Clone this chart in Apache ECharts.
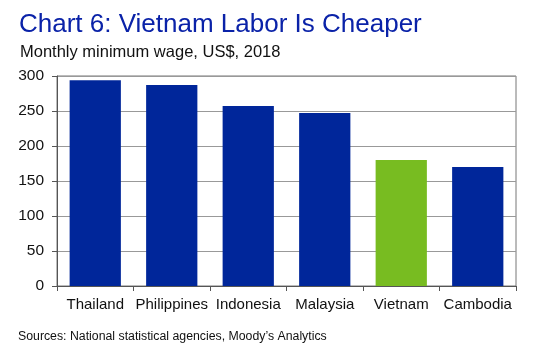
<!DOCTYPE html>
<html>
<head>
<meta charset="utf-8">
<script src="https://cdn.jsdelivr.net/npm/echarts@6/dist/echarts.min.js"></script>
<style>
  html, body { margin: 0; padding: 0; background: #fff; }
  #chart { width: 539px; height: 353px; }
</style>
</head>
<body>
<div id="chart"></div>
<script>
// Monthly minimum wage, US$, 2018
var countries = ['Thailand', 'Philippines', 'Indonesia', 'Malaysia', 'Vietnam', 'Cambodia'];
var wages = [294, 287, 257, 247, 180, 170];
var barColors = ['#00269a', '#00269a', '#00269a', '#00269a', '#78bc21', '#00269a'];

var chart = echarts.init(document.getElementById('chart'));

chart.setOption({
    animation: false,
    textStyle: {
        fontFamily: 'Liberation Sans, Arial, sans-serif'
    },
    title: [{
        text: 'Chart 6: Vietnam Labor Is Cheaper',
        left: 14,
        top: 7,
        textStyle: {
            color: '#0a22a8',
            fontSize: 26,
            fontWeight: 'normal'
        }
    }, {
        text: 'Monthly minimum wage, US$, 2018',
        left: 15,
        top: 39,
        textStyle: {
            color: '#111',
            fontSize: 16.5,
            fontWeight: 'normal'
        }
    }, {
        text: 'Sources: National statistical agencies, Moody\u2019s Analytics',
        left: 13,
        top: 326,
        textStyle: {
            color: '#111',
            fontSize: 12.3,
            fontWeight: 'normal'
        }
    }],
    grid: {
        left: 57,
        right: 23,
        top: 76,
        bottom: 67,
        show: true,
        borderColor: '#777',
        borderWidth: 1
    },
    xAxis: {
        type: 'category',
        data: countries,
        axisLine: { lineStyle: { color: '#555' } },
        axisTick: { show: true, length: 5, lineStyle: { color: '#555' } },
        axisLabel: { color: '#111', fontSize: 15, margin: 11, interval: 0 }
    },
    yAxis: {
        type: 'value',
        min: 0,
        max: 300,
        interval: 50,
        axisLine: { show: true, lineStyle: { color: '#555' } },
        axisTick: { show: true, length: 5, lineStyle: { color: '#555' } },
        axisLabel: { color: '#111', fontSize: 15.5, margin: 13 },
        splitLine: { lineStyle: { color: '#999' } }
    },
    series: [{
        type: 'bar',
        data: wages,
        barCategoryGap: '33%',
        itemStyle: {
            color: function (p) { return barColors[p.dataIndex]; }
        }
    }]
});
</script>
</body>
</html>
